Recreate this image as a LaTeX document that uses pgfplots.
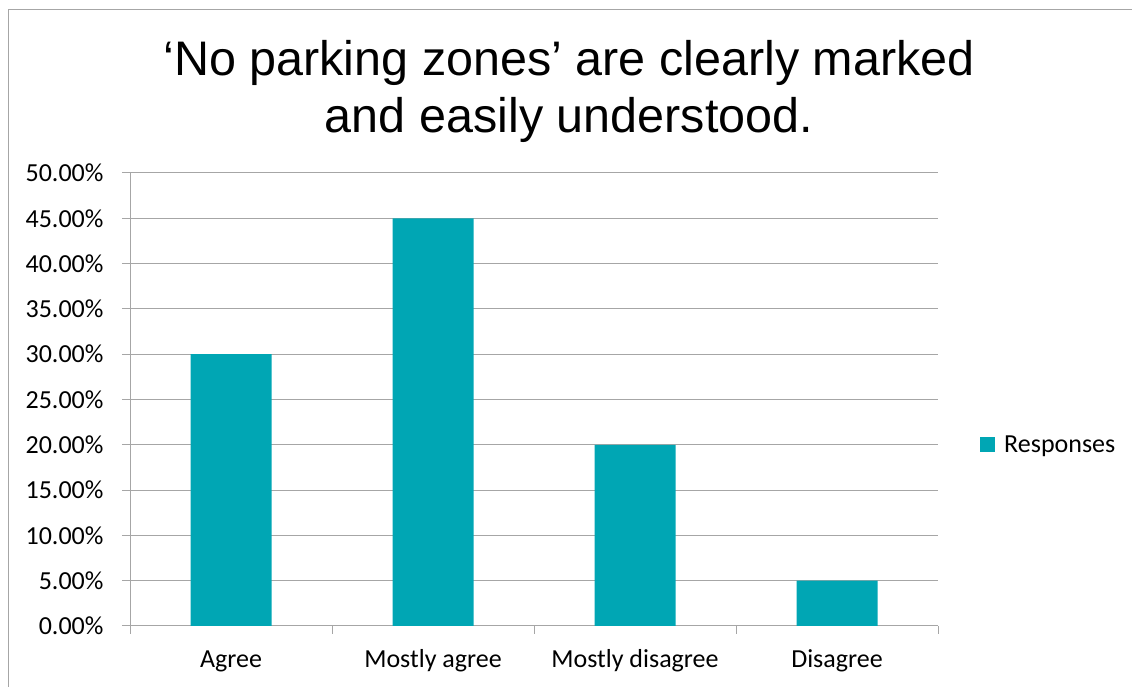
\documentclass[border=0pt]{standalone}
\usepackage{fontspec}
\setmainfont{Carlito}
\newfontfamily\titlefont{Liberation Sans}
\usepackage{pgfplots}
\pgfplotsset{compat=1.18}
\definecolor{bar}{RGB}{0,166,180}
\definecolor{gridc}{RGB}{166,166,166}
\begin{document}
\begin{tikzpicture}[x=1pt,y=1pt]
\path[use as bounding box] (0,0) rectangle (1132,687);
\draw[gridc,line width=1pt] (8,0) -- (8,677) -- (1132,677);
\node[font=\titlefont\fontsize{48.5}{57}\selectfont,align=center,anchor=center] at (569,596) {‘No parking zones’ are clearly marked\\and easily understood.};
\begin{axis}[
  at={(130pt,61pt)}, anchor=south west,
  width=808pt, height=453pt, scale only axis,
  xmin=-0.5, xmax=3.5, ymin=0, ymax=50,
  axis x line*=bottom, axis y line*=left,
  axis line style={gridc,line width=1pt},
  ytick={0,5,...,50},
  yticklabel={\pgfmathprintnumber[fixed,fixed zerofill,precision=2]{\tick}\%},
  /pgf/number format/assume math mode=true,
  ymajorgrids, grid style={gridc,line width=1pt},
  xtick={0,1,2,3},
  xticklabels={Agree,Mostly agree,Mostly disagree,Disagree},
  minor xtick={-0.5,0.5,1.5,2.5,3.5},
  tick align=outside,
  major tick length=8pt, minor tick length=8pt,
  xtick style={draw=none},
  minor x tick style={draw=gridc,line width=1pt},
  ytick style={gridc,line width=1pt},
  tick label style={font=\fontsize{26}{30}\selectfont, text=black},
  yticklabel style={xshift=-15pt},
  xticklabel style={yshift=-12pt, text height=18pt, text depth=6pt},
  legend style={at={(1.052,0.40)}, anchor=west, draw=none, font=\fontsize{26}{30}\selectfont, inner sep=0pt,
    /tikz/every odd column/.append style={column sep=7pt}},
  legend image code/.code={\fill[bar] (0pt,-7.5pt) rectangle (15pt,7.5pt);},
]
\addplot[ybar, bar width=81pt, fill=bar, draw=none] coordinates {(0,30) (1,45) (2,20) (3,5)};
\addlegendentry{Responses}
\end{axis}
\end{tikzpicture}
\end{document}
